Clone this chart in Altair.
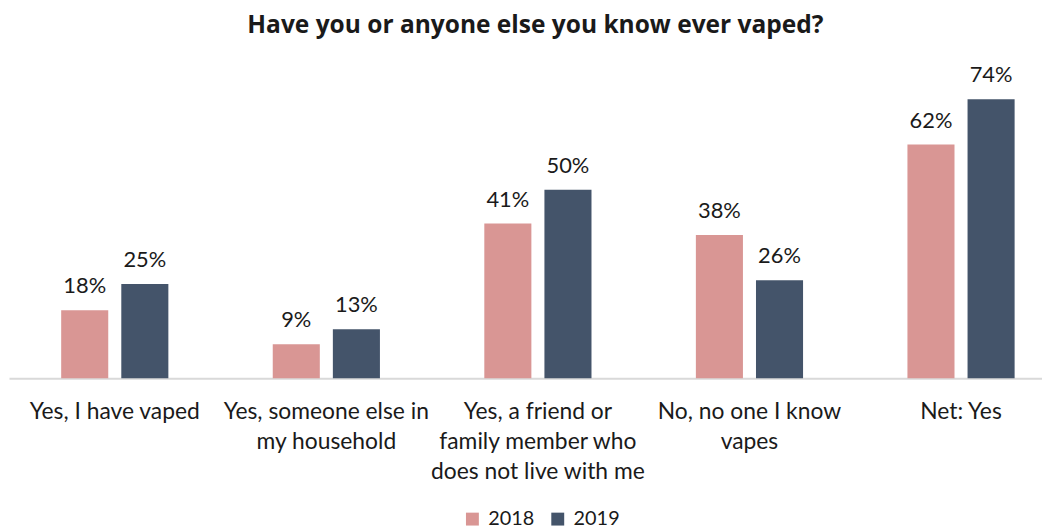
import altair as alt
import pandas as pd

categories = [
    "Yes, I have vaped",
    "Yes, someone else in|my household",
    "Yes, a friend or|family member who|does not live with me",
    "No, no one I know|vapes",
    "Net: Yes",
]
years = ["2018", "2019"]
values_2018 = [18, 9, 41, 38, 62]
values_2019 = [25, 13, 50, 26, 74]
colors = ["#D99694", "#44546A"]

rows = []
for c, a, b in zip(categories, values_2018, values_2019):
    rows.append({"category": c, "year": "2018", "value": a})
    rows.append({"category": c, "year": "2019", "value": b})
df = pd.DataFrame(rows)
df["label"] = df["value"].astype(str) + "%"

FONT = "Lato"

x = alt.X(
    "category:N",
    sort=categories,
    scale=alt.Scale(range=[0, 1066], paddingInner=0.4934, paddingOuter=0.2467),
    axis=alt.Axis(
        title=None,
        labelExpr="split(datum.label, '|')",
        labelAngle=0,
        labelFont=FONT,
        labelFontSize=23,
        labelLineHeight=30,
        labelPadding=23,
        labelColor="#1a1a1a",
        labelLimit=0,
        domainColor="#D9D9D9",
        domainWidth=2,
        ticks=False,
        grid=False,
    ),
)
xo = alt.XOffset("year:N", sort=years, scale=alt.Scale(paddingInner=0.217, paddingOuter=0))
y = alt.Y("value:Q", scale=alt.Scale(domain=[0, 80]), axis=None)

bars = alt.Chart(df).mark_bar().encode(
    x=x,
    xOffset=xo,
    y=y,
    color=alt.Color(
        "year:N",
        sort=years,
        scale=alt.Scale(domain=years, range=colors),
        legend=alt.Legend(
            title=None,
            orient="none",
            direction="horizontal",
            legendX=457,
            legendY=436,
            symbolType="square",
            symbolSize=169,
            symbolStrokeWidth=0,
            symbolOpacity=1,
            labelFont=FONT,
            labelFontSize=20,
            labelColor="#1a1a1a",
            labelOffset=6,
            columnPadding=13,
            padding=0,
        ),
    ),
)

labels = alt.Chart(df).mark_text(
    font=FONT, fontSize=22, color="#1a1a1a", baseline="alphabetic", dy=-17
).encode(x=x, xOffset=xo, y=y, text="label:N")

chart = (
    alt.layer(bars, labels)
    .properties(
        width=1041,
        height=304,
        autosize=alt.AutoSizeParams(type="none"),
        padding={"left": 1, "top": 67, "right": 0, "bottom": 160},
        title=alt.TitleParams(
            "Have you or anyone else you know ever vaped?",
            font="Open Sans",
            fontSize=24.7,
            fontWeight="bold",
            color="#1a1a1a",
            anchor="middle",
            frame="group",
            baseline="alphabetic",
            offset=7,
            dx=10,
        ),
    )
    .configure_view(stroke=None)
)

chart.save("out.html", embed_options={"renderer": "svg", "actions": False})
